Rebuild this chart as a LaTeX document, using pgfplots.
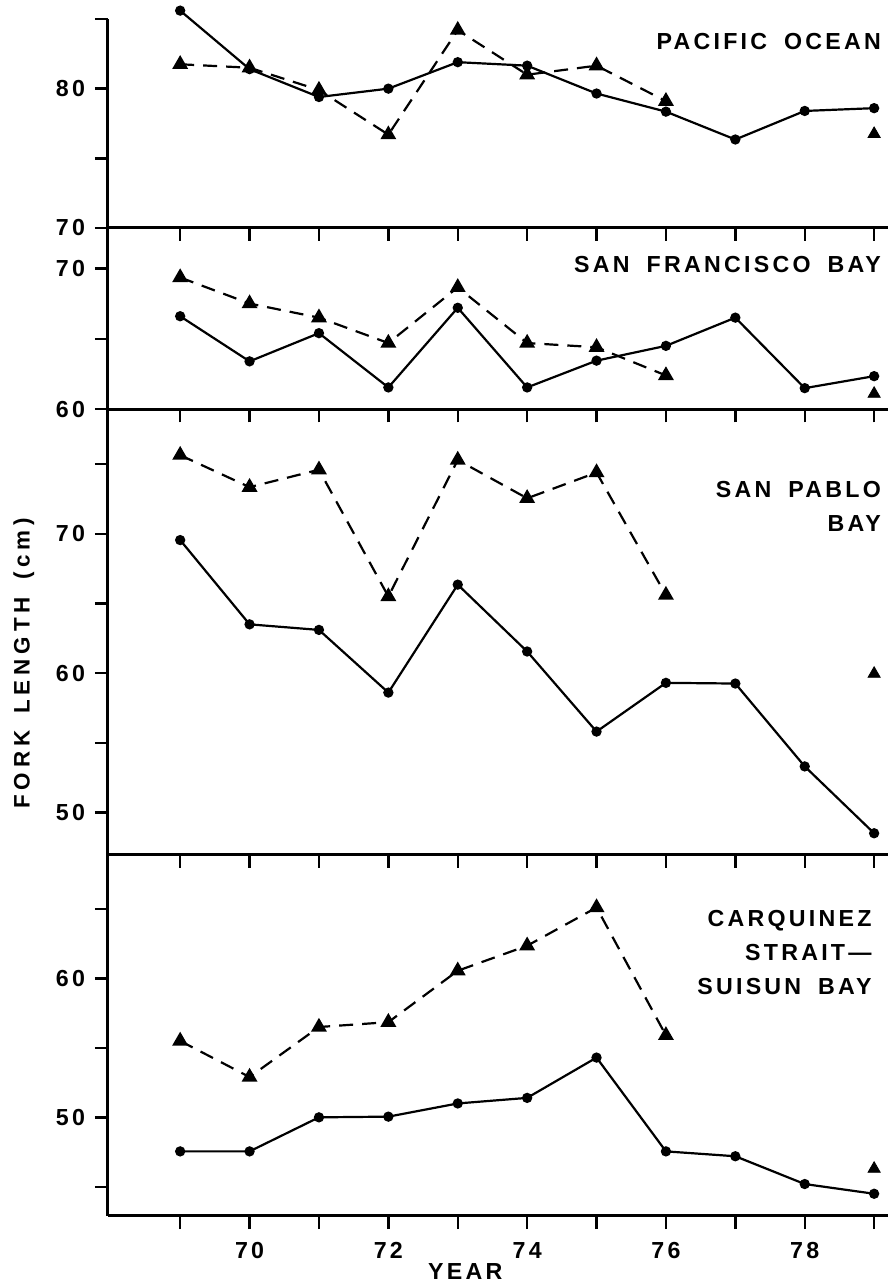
\documentclass[border=0pt]{standalone}
\usepackage{fontspec}
\usepackage{pgfplots}
\pgfplotsset{compat=1.18}
\setmainfont{Liberation Sans}
\newfontfamily\labfam[LetterSpace=14]{Liberation Sans}
\newfontfamily\ylabfam[LetterSpace=22]{Liberation Sans}
\newcommand\lf{\labfam\bfseries\fontsize{11.6}{17}\selectfont}
\newcommand\ylf{\ylabfam\bfseries\fontsize{11.2}{17}\selectfont}
\newcommand\wsp{\hspace{8.5pt}}

\pgfplotsset{
  panel/.style={
    scale only axis, width=390pt,
    xmin=67.96, xmax=79.2,
    axis x line*=bottom, axis y line*=left,
    axis line style={line width=1.5pt},
    xtick={69,...,79}, xticklabels={},
    tick align=outside, major tick length=6.5pt,
    major tick style={line width=1.2pt, black},
    tick label style={font=\lf},
    yticklabel style={xshift=-1.5pt},
    xticklabel style={yshift=-3pt},
    /pgf/number format/assume math mode=true,
    clip=false,
    anchor=south west,
  },
  solidser/.style={black, line width=1.1pt, mark=*, mark size=2pt},
  dashser/.style={black, line width=1.1pt, dash pattern=on 7pt off 4.5pt, mark=triangle*, mark size=3.5pt, mark options={solid}},
  lone/.style={black, only marks, mark=triangle*, mark size=3.5pt},
}

\begin{document}
\begin{tikzpicture}
\useasboundingbox (0,0) rectangle (445pt,642pt);

% Panel 1: Pacific Ocean
\begin{axis}[panel, at={(54pt,528pt)}, height=104.5pt,
  ymin=70, ymax=85, ytick={70,75,80,85}, yticklabels={70,,80,}]
\addplot[solidser] coordinates {(69,85.6) (70,81.4) (71,79.4) (72,80.0) (73,81.9) (74,81.65) (75,79.65) (76,78.35) (77,76.35) (78,78.4) (79,78.6)};
\addplot[dashser] coordinates {(69,81.75) (70,81.5) (71,79.9) (72,76.7) (73,84.2) (74,81.0) (75,81.65) (76,79.1)};
\addplot[lone] coordinates {(79,76.75)};
\node[anchor=east, font=\lf] at (axis description cs:1.0,0.89) {PACIFIC\wsp OCEAN};
\end{axis}

% Panel 2: San Francisco Bay
\begin{axis}[panel, at={(54pt,437.35pt)}, height=90.65pt,
  ymin=60, ymax=72.86, ytick={60,65,70}, yticklabels={60,,70}]
\addplot[solidser] coordinates {(69,66.6) (70,63.4) (71,65.4) (72,61.55) (73,67.2) (74,61.55) (75,63.45) (76,64.5) (77,66.5) (78,61.5) (79,62.35)};
\addplot[dashser] coordinates {(69,69.35) (70,67.5) (71,66.5) (72,64.7) (73,68.65) (74,64.7) (75,64.4) (76,62.4)};
\addplot[lone] coordinates {(79,61.1)};
\node[anchor=east, font=\lf] at (axis description cs:1.0,0.796) {SAN\wsp FRANCISCO\wsp BAY};
\end{axis}

% Panel 3: San Pablo Bay
\begin{axis}[panel, at={(54pt,214.5pt)}, height=222.85pt,
  ymin=46.94, ymax=78.94, ytick={50,55,60,65,70,75}, yticklabels={50,,60,,70,},
  ylabel={FORK\wsp LENGTH\wsp (cm)}, ylabel style={font=\ylf, at={(axis description cs:-0.108,0.43)}, anchor=center, rotate=0}]
\addplot[solidser] coordinates {(69,69.55) (70,63.5) (71,63.1) (72,58.6) (73,66.35) (74,61.55) (75,55.8) (76,59.3) (77,59.25) (78,53.3) (79,48.5)};
\addplot[dashser] coordinates {(69,75.65) (70,73.35) (71,74.6) (72,65.5) (73,75.3) (74,72.55) (75,74.4) (76,65.6)};
\addplot[lone] coordinates {(79,59.95)};
\node[anchor=east, font=\lf, align=right] at (axis description cs:1.0,0.783) {SAN\wsp PABLO\\BAY};
\end{axis}

% Panel 4: Carquinez Strait - Suisun Bay
\begin{axis}[panel, at={(54pt,34pt)}, height=180.5pt,
  ymin=42.9, ymax=68.88, ytick={45,50,55,60,65}, yticklabels={,50,,60,},
  xticklabels={,70,,72,,74,,76,,78,},
  xlabel={YEAR}, xlabel style={font=\lf, at={(axis description cs:0.458,-0.153)}, anchor=center}]
\addplot[solidser] coordinates {(69,47.55) (70,47.55) (71,50.0) (72,50.05) (73,51.0) (74,51.4) (75,54.3) (76,47.55) (77,47.2) (78,45.2) (79,44.5)};
\addplot[dashser] coordinates {(69,55.5) (70,52.9) (71,56.5) (72,56.85) (73,60.55) (74,62.35) (75,65.1) (76,55.9)};
\addplot[lone] coordinates {(79,46.3)};
\node[anchor=east, font=\lf, align=right] at (axis description cs:0.988,0.7285) {CARQUINEZ\\STRAIT—\\SUISUN\wsp BAY};
\end{axis}
\end{tikzpicture}
\end{document}
